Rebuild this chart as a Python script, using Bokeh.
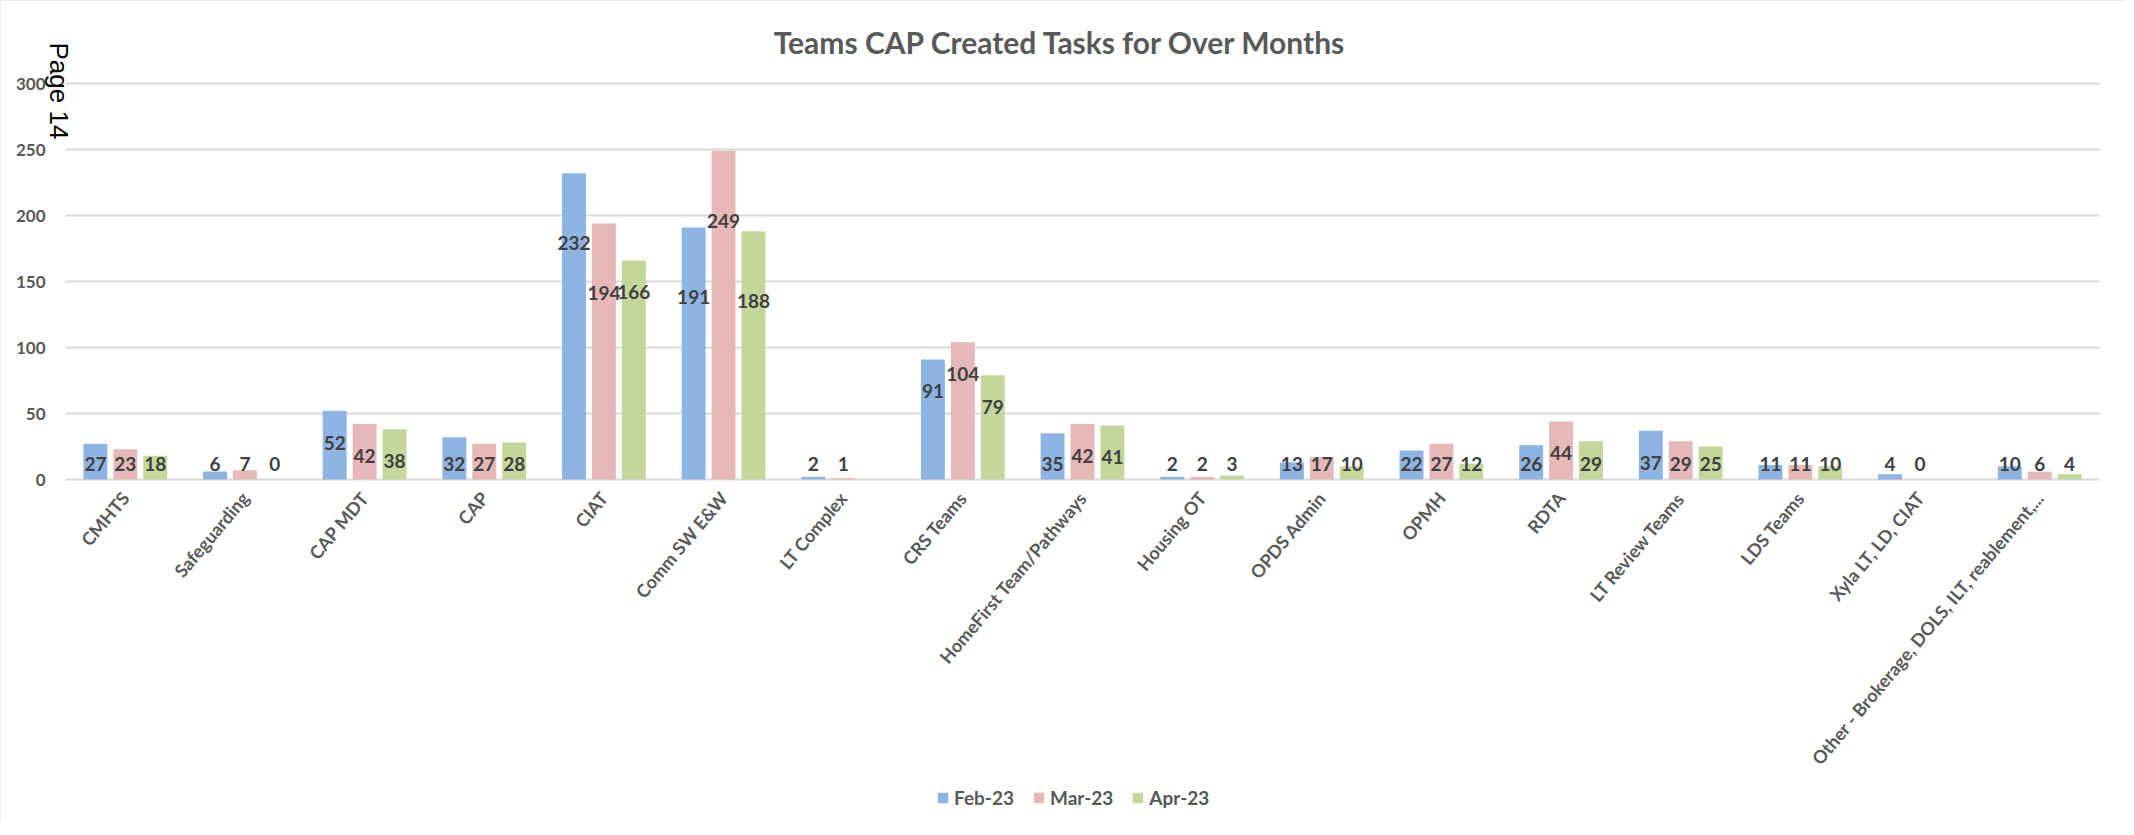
import math
from bokeh.plotting import figure
from bokeh.models import (ColumnDataSource, Range1d, FixedTicker, LinearAxis,
                          Legend, LegendItem, Label)
from bokeh.core.properties import value
from bokeh.embed import file_html
from bokeh.resources import INLINE

categories = ["CMHTS", "Safeguarding", "CAP MDT", "CAP", "CIAT", "Comm SW E&W",
              "LT Complex", "CRS Teams", "HomeFirst Team/Pathways", "Housing OT",
              "OPDS Admin", "OPMH", "RDTA", "LT Review Teams", "LDS Teams",
              "Xyla LT, LD, CIAT", "Other - Brokerage, DOLS, ILT, reablement,..."]
feb = [27, 6, 52, 32, 232, 191, 2, 91, 35, 2, 13, 22, 26, 37, 11, 4, 10]
mar = [23, 7, 42, 27, 194, 249, 1, 104, 42, 2, 17, 27, 44, 29, 11, 0, 6]
apr = [18, 0, 38, 28, 166, 188, None, 79, 41, 3, 10, 12, 29, 25, 10, None, 4]
months = ["Feb-23", "Mar-23", "Apr-23"]
y_ticks = [0, 50, 100, 150, 200, 250, 300]
colors = ["#8EB4E3", "#E6B9B8", "#C4D79B"]

# canvas and plot-area geometry (pixels)
W, H = 2126, 820
PL, PR, PT, PB = 65, 2099, 83, 479
ncat = len(categories)
ymax = y_ticks[-1]
ppu_y = (PB - PT) / ymax
ppu_x = (PR - PL) / ncat

p = figure(width=W, height=H, title=None,
           x_range=Range1d(-PL / ppu_x, ncat + (W - PR) / ppu_x),
           y_range=Range1d(-(H - PB) / ppu_y, ymax + PT / ppu_y),
           x_axis_location=None, y_axis_location=None,
           output_backend="svg", toolbar_location=None, min_border=0)
p.min_border_left = p.min_border_right = p.min_border_top = p.min_border_bottom = 0
p.outline_line_color = None
p.grid.grid_line_color = None
p.background_fill_color = "white"
p.border_fill_color = "white"
p.styles = {"outline": "2px solid #d9d9d9", "outline-offset": "-2px"}

# horizontal gridlines across the category span
p.segment(x0=[0] * len(y_ticks), x1=[ncat] * len(y_ticks), y0=y_ticks, y1=y_ticks,
          line_color="#d9d9d9", line_width=2)

centers = [i + 0.5 for i in range(ncat)]
yaxis = LinearAxis(fixed_location=0, ticker=FixedTicker(ticks=y_ticks), bounds=(0, ymax))
xaxis = LinearAxis(fixed_location=0, ticker=FixedTicker(ticks=centers), bounds=(0, ncat),
                   major_label_overrides={c: name for c, name in zip(centers, categories)})
for ax in (xaxis, yaxis):
    ax.axis_line_color = None
    ax.major_tick_line_color = None
    ax.minor_tick_line_color = None
    ax.major_tick_out = 0
    ax.major_tick_in = 0
    ax.major_label_text_font = "Lato"
    ax.major_label_text_font_style = "bold"
    ax.major_label_text_color = "#595959"
yaxis.major_label_text_font_size = "17px"
xaxis.major_label_text_font_size = "18px"
yaxis.major_label_standoff = 20
xaxis.major_label_standoff = 15
xaxis.major_label_orientation = math.radians(50)
p.add_layout(yaxis, "left")
p.add_layout(xaxis, "below")

offsets = [-0.25, 0.0, 0.25]
items = []
for series, name, col, off in zip((feb, mar, apr), months, colors, offsets):
    xs = [c + off for c, v in zip(centers, series) if v is not None]
    vs = [v for v in series if v is not None]
    ly = []
    for v in vs:
        gap = (70 if v > 180 else 32) / ppu_y
        ly.append(max(v - gap, 16 / ppu_y))
    src = ColumnDataSource(dict(x=xs, top=vs, ly=ly, lab=[str(v) for v in vs]))
    r = p.vbar(x="x", top="top", width=0.2, source=src, fill_color=col, line_color=None)
    p.text(x="x", y="ly", text="lab", source=src,
           text_align="center", text_baseline="middle", text_font=value("Lato"),
           text_font_style="bold", text_font_size="19px", text_color="#404040")
    items.append(LegendItem(label=name, renderers=[r]))

legend = Legend(items=items, location=(936, 11), orientation="horizontal",
                glyph_width=13, glyph_height=13, label_standoff=5, spacing=18,
                padding=0, margin=0, label_text_font="Lato", label_text_font_style="bold",
                label_text_font_size="19px", label_text_color="#595959",
                background_fill_alpha=0, border_line_color=None)
p.add_layout(legend)

title = Label(x=1060, y=H - 41, x_units="screen", y_units="screen",
              text="Teams CAP Created Tasks for Over Months", text_align="center",
              text_baseline="middle", text_font="Lato", text_font_style="bold",
              text_font_size="30px", text_color="#595959")
p.add_layout(title)

page = Label(x=58, y=H - 42, x_units="screen", y_units="screen", text="Page 14",
             angle=-math.pi / 2, text_align="left", text_baseline="middle",
             text_font="Liberation Sans", text_font_size="26px", text_color="#000000")
p.add_layout(page)

open("out.html", "w").write(file_html(p, INLINE))
